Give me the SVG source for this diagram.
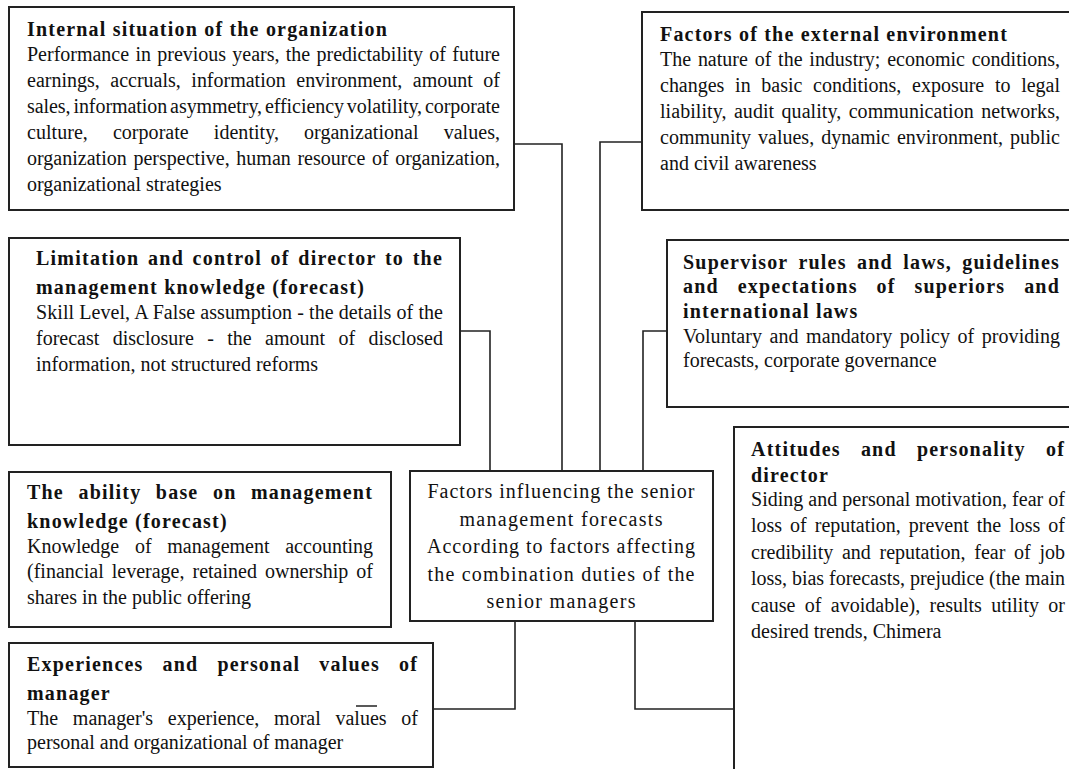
<svg xmlns="http://www.w3.org/2000/svg" width="1069" height="769" viewBox="0 0 1069 769">
<style>
.box{fill:#fff;stroke:#222;stroke-width:2}
.t{font-family:"Liberation Serif","Times New Roman",serif;font-size:20px;fill:#111}
.h{font-weight:bold;letter-spacing:1.2px}
.c{letter-spacing:1px;text-anchor:middle}
.conn{fill:none;stroke:#222;stroke-width:1.6}
</style>
<rect width="1069" height="769" fill="#fff"/>
<g id="connectors">
<path class="conn" d="M514,144 H562 V471"/>
<path class="conn" d="M642,142 H600 V471"/>
<path class="conn" d="M460,331 H490 V471"/>
<path class="conn" d="M667,331 H643 V471"/>
<path class="conn" d="M433,709 H515 V621"/>
<path class="conn" d="M734,709 H635 V621"/>
</g>
<g id="internal">
<rect class="box" x="9" y="7" width="505" height="203"/>
<text class="t h" x="27" y="36" textLength="361">Internal situation of the organization</text>
<text class="t" x="27" y="61" word-spacing="1.3" textLength="473">Performance in previous years, the predictability of future</text>
<text class="t" x="27" y="87" word-spacing="5.6" textLength="473">earnings, accruals, information environment, amount of</text>
<text class="t" x="27" y="113" word-spacing="-2" textLength="473">sales, information asymmetry, efficiency volatility, corporate</text>
<text class="t" x="27" y="139" word-spacing="20" textLength="473">culture, corporate identity, organizational values,</text>
<text class="t" x="27" y="165" word-spacing="1.6" textLength="473">organization perspective, human resource of organization,</text>
<text class="t" x="27" y="191">organizational strategies</text>
</g>
<g id="external">
<rect class="box" x="642" y="12" width="440" height="198"/>
<text class="t h" x="660" y="41" textLength="348">Factors of the external environment</text>
<text class="t" x="660" y="66" word-spacing="1.8" textLength="400">The nature of the industry; economic conditions,</text>
<text class="t" x="660" y="92" word-spacing="5.7" textLength="400">changes in basic conditions, exposure to legal</text>
<text class="t" x="660" y="118" word-spacing="2.3" textLength="400">liability, audit quality, communication networks,</text>
<text class="t" x="660" y="144" word-spacing="2" textLength="400">community values, dynamic environment, public</text>
<text class="t" x="660" y="170">and civil awareness</text>
</g>
<g id="limitation">
<rect class="box" x="9" y="238" width="451" height="207"/>
<text class="t h" x="36" y="265" word-spacing="2.4" textLength="407">Limitation and control of director to the</text>
<text class="t h" x="36" y="294">management knowledge (forecast)</text>
<text class="t" x="36" y="319" textLength="407">Skill Level, A False assumption - the details of the</text>
<text class="t" x="36" y="345" word-spacing="8.4" textLength="407">forecast disclosure - the amount of disclosed</text>
<text class="t" x="36" y="371">information, not structured reforms</text>
</g>
<g id="supervisor">
<rect class="box" x="667" y="240" width="415" height="167"/>
<text class="t h" x="683" y="269" word-spacing="4.1" textLength="377">Supervisor rules and laws, guidelines</text>
<text class="t h" x="683" y="293" word-spacing="12.7" textLength="377">and expectations of superiors and</text>
<text class="t h" x="683" y="318">international laws</text>
<text class="t" x="683" y="343" word-spacing="2.4" textLength="377">Voluntary and mandatory policy of providing</text>
<text class="t" x="683" y="367">forecasts, corporate governance</text>
</g>
<g id="ability">
<rect class="box" x="9" y="472" width="382" height="155"/>
<text class="t h" x="27" y="499" word-spacing="8.3" textLength="346">The ability base on management</text>
<text class="t h" x="27" y="528">knowledge (forecast)</text>
<text class="t" x="27" y="553" word-spacing="10.7" textLength="346">Knowledge of management accounting</text>
<text class="t" x="27" y="578" word-spacing="3" textLength="346">(financial leverage, retained ownership of</text>
<text class="t" x="27" y="604">shares in the public offering</text>
</g>
<g id="experiences">
<rect class="box" x="9" y="643" width="424" height="124"/>
<text class="t h" x="27" y="671" word-spacing="12.8" textLength="391">Experiences and personal values of</text>
<text class="t h" x="27" y="700">manager</text>
<line x1="356" y1="706" x2="377" y2="706" stroke="#222" stroke-width="1.5"/>
<text class="t" x="27" y="725" word-spacing="9.8" textLength="391">The manager's experience, moral values of</text>
<text class="t" x="27" y="749">personal and organizational of manager</text>
</g>
<g id="center">
<rect class="box" x="410" y="471" width="303" height="150"/>
<text class="t c" x="561.5" y="498" textLength="268">Factors influencing the senior</text>
<text class="t c" x="561.5" y="526" textLength="204">management forecasts</text>
<text class="t c" x="561.5" y="553" textLength="269">According to factors affecting</text>
<text class="t c" x="561.5" y="581" textLength="268">the combination duties of the</text>
<text class="t c" x="561.5" y="608" textLength="150">senior managers</text>
</g>
<g id="attitudes">
<rect class="box" x="734" y="427" width="360" height="360"/>
<text class="t h" x="751" y="456" word-spacing="14" textLength="314">Attitudes and personality of</text>
<text class="t h" x="751" y="482">director</text>
<text class="t" x="751" y="506" textLength="314">Siding and personal motivation, fear of</text>
<text class="t" x="751" y="532" word-spacing="3" textLength="314">loss of reputation, prevent the loss of</text>
<text class="t" x="751" y="559" word-spacing="3.7" textLength="314">credibility and reputation, fear of job</text>
<text class="t" x="751" y="585" textLength="314">loss, bias forecasts, prejudice (the main</text>
<text class="t" x="751" y="612" word-spacing="4.4" textLength="314">cause of avoidable), results utility or</text>
<text class="t" x="751" y="638">desired trends, Chimera</text>
</g>
</svg>
